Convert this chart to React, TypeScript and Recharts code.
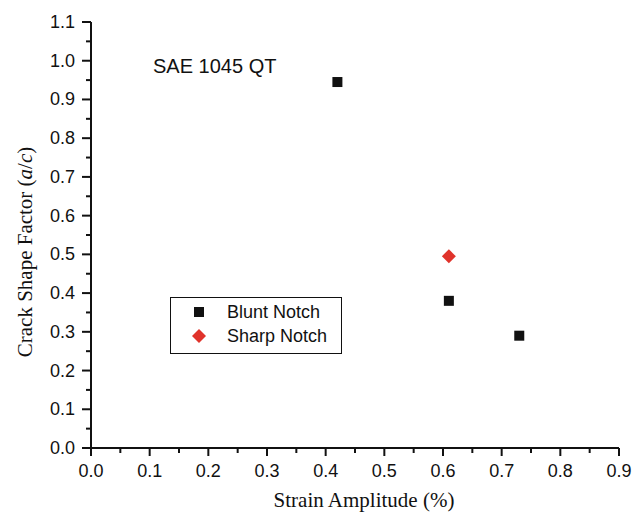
import { Legend, Scatter, ScatterChart, XAxis, YAxis } from "recharts";

const X_TICKS = [0, 0.05, 0.1, 0.15, 0.2, 0.25, 0.3, 0.35, 0.4, 0.45, 0.5, 0.55, 0.6, 0.65, 0.7, 0.75, 0.8, 0.85, 0.9];
const Y_TICKS = [0, 0.05, 0.1, 0.15, 0.2, 0.25, 0.3, 0.35, 0.4, 0.45, 0.5, 0.55, 0.6, 0.65, 0.7, 0.75, 0.8, 0.85, 0.9, 0.95, 1.0, 1.05, 1.1];

const bluntStrain = [0.42, 0.61, 0.73];
const bluntFactor = [0.945, 0.38, 0.29];
const sharpStrain = [0.61];
const sharpFactor = [0.495];

const blunt = bluntStrain.map((x, i) => ({ x, y: bluntFactor[i] }));
const sharp = sharpStrain.map((x, i) => ({ x, y: sharpFactor[i] }));

const INK = "#111";
const RED = "#e0332b";
const SANS = "'Liberation Sans', Arial, sans-serif";
const SERIF = "'Liberation Serif', 'Times New Roman', serif";

const isMajor = (v: number) => Math.round(v * 20) % 2 === 0;

function XTick(props: any) {
  const { x, y, payload } = props;
  const major = isMajor(payload.value);
  return (
    <g>
      <line x1={x} x2={x} y1={y} y2={y + (major ? 8 : 5)} stroke={INK} strokeWidth={2} />
      {major && (
        <text x={x} y={y + 29} textAnchor="middle" fontFamily={SANS} fontSize={18} fill={INK}>
          {payload.value.toFixed(1)}
        </text>
      )}
    </g>
  );
}

function YTick(props: any) {
  const { x, y, payload } = props;
  const major = isMajor(payload.value);
  return (
    <g>
      <line x1={x} x2={x - (major ? 9 : 5)} y1={y} y2={y} stroke={INK} strokeWidth={2} />
      {major && (
        <text x={x - 16} y={y + 6} textAnchor="end" fontFamily={SANS} fontSize={18} fill={INK}>
          {payload.value.toFixed(1)}
        </text>
      )}
    </g>
  );
}

function Square(props: any) {
  const { cx, cy } = props;
  return <rect x={cx - 5} y={cy - 5} width={10} height={10} fill={INK} />;
}

function Diamond(props: any) {
  const { cx, cy } = props;
  return <path d={`M${cx},${cy - 7}L${cx + 7},${cy}L${cx},${cy + 7}L${cx - 7},${cy}Z`} fill={RED} />;
}

function LegendBox() {
  return (
    <svg width={172} height={57}>
      <rect x={0.5} y={0.5} width={171} height={56} fill="#fff" stroke={INK} strokeWidth={1} />
      <rect x={24} y={10} width={10} height={10} fill={INK} />
      <path d="M29,32L36,39L29,46L22,39Z" fill={RED} />
      <text x={57} y={21} fontFamily={SANS} fontSize={18} fill={INK}>Blunt Notch</text>
      <text x={57} y={45} fontFamily={SANS} fontSize={18} fill={INK}>Sharp Notch</text>
    </svg>
  );
}

export default function App() {
  return (
    <div style={{ position: "absolute", left: 0, top: 0, width: 644, height: 512, background: "#fff" }}>
      <ScatterChart width={644} height={512} margin={{ top: 22, right: 25, left: 0, bottom: 0 }}>
        <XAxis
          type="number"
          dataKey="x"
          domain={[0, 0.9]}
          ticks={X_TICKS}
          interval={0}
          height={64}
          tickSize={0}
          tickMargin={0}
          tickLine={false}
          tick={<XTick />}
          axisLine={{ stroke: INK, strokeWidth: 2 }}
        />
        <YAxis
          type="number"
          dataKey="y"
          domain={[0, 1.1]}
          ticks={Y_TICKS}
          interval={0}
          width={91}
          tickSize={0}
          tickMargin={0}
          tickLine={false}
          tick={<YTick />}
          axisLine={{ stroke: INK, strokeWidth: 2 }}
        />
        <Legend
          layout="horizontal"
          verticalAlign="middle"
          content={() => <LegendBox />}
          wrapperStyle={{ left: 170, top: 297, width: 172, height: 57 }}
        />
        <Scatter name="Blunt Notch" data={blunt} shape={<Square />} isAnimationActive={false} />
        <Scatter name="Sharp Notch" data={sharp} shape={<Diamond />} isAnimationActive={false} />
      </ScatterChart>
      <svg width={644} height={512} style={{ position: "absolute", left: 0, top: 0, pointerEvents: "none" }}>
        <text x={153} y={73} fontFamily={SANS} fontSize={20} fill={INK}>SAE 1045 QT</text>
        <text x={364} y={507} textAnchor="middle" fontFamily={SERIF} fontSize={21} fill={INK}>
          Strain Amplitude (%)
        </text>
        <text transform="translate(32,252) rotate(-90)" textAnchor="middle" fontFamily={SERIF} fontSize={21} fill={INK}>
          Crack Shape Factor (<tspan fontStyle="italic">a</tspan>/<tspan fontStyle="italic">c</tspan>)
        </text>
      </svg>
    </div>
  );
}
